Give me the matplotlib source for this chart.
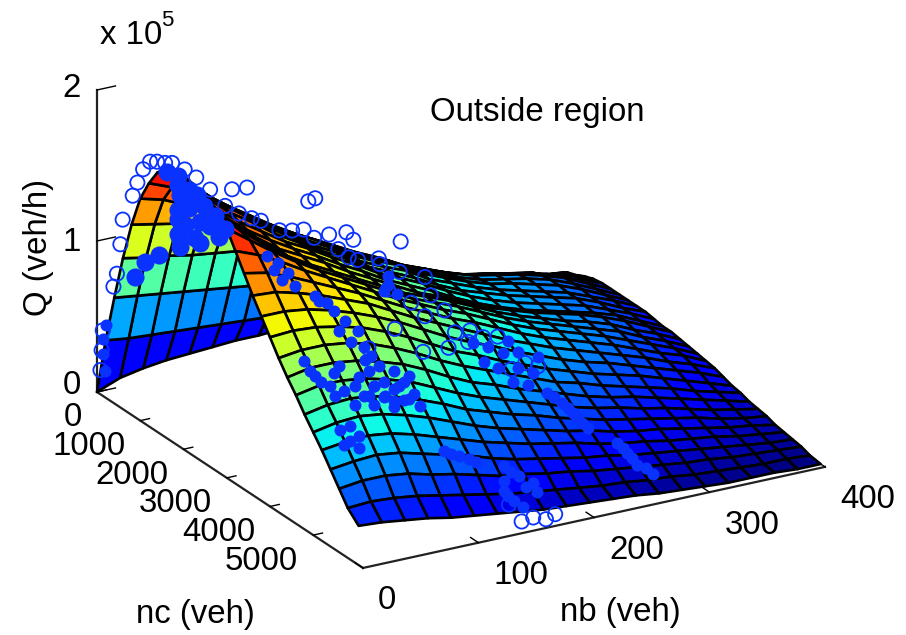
import numpy as np
import matplotlib
matplotlib.use('Agg')
import matplotlib.pyplot as plt
from mpl_toolkits.mplot3d import proj3d

plt.rcParams['font.family'] = ['Liberation Sans', 'DejaVu Sans']

# grid of the fitted surface
nc_grid = [0, 200, 400, 600, 800, 1000, 1200, 1400, 1600, 1800, 2000, 2200, 2400, 2600, 2800, 3000,
           3200, 3400, 3600, 3800, 4000, 4200, 4400, 4600, 4800, 5000, 5200, 5400, 5600, 5800, 6050]
nb_grid = [0, 20, 40, 60, 80, 100, 120, 140, 160, 180, 200, 220, 240, 260, 280, 300, 320, 340, 360, 380, 400]

# Q in 1000 veh/h, one row per nc_grid value
q_surface = [
    [0, 6, 9, 11, 12, 13, 14, 14, 15, 15, 15, 15, 15, 15, 15, 14, 14, 14, 13, 13, 12],
    [38, 36, 35, 34, 33, 32, 31, 30, 29, 28, 27, 26, 25, 24, 23, 22, 21, 20, 19, 18, 16],
    [70, 68, 66, 64, 62, 60, 58, 56, 53, 50, 46, 42, 38, 35, 32, 30, 28, 26, 24, 21, 18],
    [100, 97, 95, 92, 90, 88, 84, 80, 74, 68, 62, 55, 49, 44, 40, 37, 35, 32, 29, 25, 21],
    [126, 123, 120, 115, 110, 104, 97, 92, 85, 76, 69, 62, 56, 50, 46, 43, 40, 37, 33, 28, 23],
    [147, 143, 136, 129, 121, 113, 105, 98, 90, 81, 75, 67, 61, 55, 50, 47, 44, 41, 35, 30, 24],
    [161, 155, 146, 137, 127, 118, 109, 101, 93, 85, 78, 70, 64, 58, 53, 50, 47, 43, 38, 31, 24],
    [172, 162, 151, 140, 130, 120, 111, 103, 94, 86, 80, 71, 65, 59, 54, 51, 48, 44, 38, 31, 24],
    [178, 165, 152, 141, 130, 120, 111, 103, 94, 87, 81, 72, 66, 60, 55, 52, 48, 44, 38, 31, 24],
    [181, 165, 152, 141, 130, 120, 111, 103, 94, 87, 81, 72, 66, 60, 55, 51, 47, 43, 37, 31, 24],
    [181, 163, 150, 140, 129, 120, 111, 103, 94, 87, 80, 72, 65, 60, 55, 51, 47, 43, 37, 30, 24],
    [180, 160, 148, 138, 128, 120, 111, 103, 94, 87, 80, 72, 65, 59, 54, 50, 46, 42, 36, 30, 23],
    [177, 158, 146, 136, 127, 119, 110, 102, 93, 86, 79, 71, 64, 58, 53, 49, 45, 41, 36, 29, 22],
    [174, 158, 145, 134, 126, 118, 109, 101, 93, 85, 79, 72, 65, 60, 55, 51, 47, 42, 36, 29, 22],
    [171, 156, 144, 133, 124, 116, 108, 100, 92, 86, 80, 73, 66, 60, 55, 50, 46, 41, 34, 28, 21],
    [165, 154, 143, 133, 124, 116, 108, 100, 92, 86, 80, 73, 66, 60, 55, 50, 45, 40, 33, 27, 20],
    [154, 148, 140, 131, 123, 115, 107, 99, 92, 85, 79, 72, 65, 59, 54, 49, 44, 38, 32, 26, 19],
    [143, 140, 134, 127, 120, 113, 105, 97, 90, 83, 77, 70, 63, 57, 52, 47, 42, 36, 30, 25, 18],
    [132, 131, 127, 122, 116, 110, 102, 94, 87, 80, 73, 66, 60, 54, 49, 44, 39, 34, 28, 23, 17],
    [122, 122, 120, 116, 111, 105, 98, 90, 82, 75, 69, 62, 56, 50, 45, 41, 36, 31, 26, 21, 15],
    [112, 113, 112, 109, 105, 99, 92, 84, 76, 70, 63, 57, 51, 46, 41, 37, 33, 28, 23, 18, 13],
    [102, 104, 104, 102, 98, 92, 85, 77, 70, 64, 58, 52, 46, 42, 37, 33, 29, 25, 20, 16, 12],
    [93, 96, 96, 94, 90, 85, 78, 70, 63, 58, 52, 47, 42, 37, 33, 30, 26, 22, 18, 14, 10],
    [85, 88, 88, 86, 82, 77, 70, 63, 57, 52, 47, 42, 37, 33, 30, 26, 23, 19, 15, 12, 9],
    [76, 79, 80, 78, 74, 69, 63, 56, 51, 46, 42, 37, 33, 29, 26, 23, 20, 17, 13, 10, 8],
    [68, 71, 72, 70, 66, 61, 55, 49, 44, 40, 36, 32, 29, 25, 22, 20, 17, 14, 11, 9, 6],
    [60, 62, 63, 61, 57, 52, 47, 42, 38, 34, 31, 28, 24, 21, 19, 16, 14, 12, 9, 7, 5],
    [51, 53, 54, 52, 48, 44, 40, 35, 31, 28, 25, 22, 20, 17, 15, 13, 11, 9, 7, 5, 4],
    [42, 44, 44, 42, 38, 35, 31, 27, 25, 22, 20, 17, 15, 13, 11, 9, 8, 6, 5, 4, 3],
    [33, 34, 33, 31, 28, 25, 22, 19, 17, 15, 13, 11, 10, 8, 7, 5, 4, 3, 2, 2, 1],
    [26, 25, 23, 21, 18, 16, 14, 12, 10, 9, 8, 7, 6, 4, 3, 2, 1, 1, 1, 0, 0],
]

# single observations (open circles)
obs_nc = [1600] * 30 + [800] * 7 + [300] * 4 + [0] * 3 + [1600] * 6 + [4000] * 3 + [6000] * 5 + [3000] * 4
obs_nb = [57, 70, 123, 129, 82, 98, 109, 119, 128, 141, 156, 162, 149, 158, 166, 184, 185, 203, 224, 202,
          192, 212, 229, 241, 224, 198, 250, 263, 287, 175,
          16, 22, 29, 35, 10, 5, 1,
          11, 9, 6, 3,
          5, 4, 3,
          16, 26, 38, 51, 63, 74,
          221, 209, 232,
          143, 153, 164, 172, 132,
          209, 192, 170, 222]
obs_q = [155, 154, 136, 137, 130, 121, 119, 118, 111, 111, 110, 104, 100, 93, 90, 88, 84, 96, 69, 76,
         66, 54, 56, 44, 43, 39, 28, 27, 19, 30,
         165, 164, 162, 161, 161, 153, 145,
         118, 102, 83, 75,
         40, 27, 14,
         175, 168, 158, 145, 138, 133,
         58, 56, 54,
         4, 5, 2, 4, 17,
         55, 54, 55, 56]

# dense cloud near the peak
peak_nc = [1600] * 24 + [800] * 3
peak_nb = [10, 1, 20, 12, 10, 20, 33, 16, 29, 40, 12, 25, 38, 46, 29, 12, 10, 16, 27, 42, 51, 10, 10, 38,
           24, 12, 3]
peak_q = [172, 176, 161, 159, 149, 149, 148, 138, 138, 134, 129, 128, 134, 125, 124, 124, 166, 160, 156,
          140, 130, 143, 133, 136, 102, 99, 91]

# dense clouds on the falling side, by nc
cloud_nb_0 = [5, 5, 7, 8]
cloud_q_0 = [34, 24, 13, 43]
cloud_nb_3000 = [35, 44, 53, 76, 87, 97, 108, 119, 72, 82, 93, 140, 136,
                 41, 48, 59, 80, 93, 102, 114, 125, 67, 76, 89, 97, 140, 147]
cloud_q_3000 = [141, 135, 127, 108, 101, 81, 72, 67, 59, 50, 54, 104, 101,
                131, 123, 117, 104, 95, 87, 78, 60, 66, 55, 46, 58, 110, 97]
cloud_nb_4000 = [86, 99, 112, 120, 107, 90, 82, 116, 189, 202, 197, 215, 228, 210, 240, 253, 262, 270,
                 94, 107, 120, 77, 99, 86, 176, 206, 215, 232, 185, 223, 246, 258, 266, 275]
cloud_q_4000 = [75, 66, 61, 51, 52, 65, 83, 63, 74, 68, 59, 56, 50, 47, 35, 26, 18, 10,
                77, 72, 66, 73, 56, 59, 79, 75, 66, 60, 65, 43, 31, 22, 14, 6]
cloud_nb_5000 = [268, 276, 113, 126, 141, 165, 178, 190, 27, 44, 62, 79, 92, 23, 32, 272, 263,
                 36, 53, 70, 87, 19, 36, 53, 70, 32, 40, 27, 40, 119, 135, 171, 184, 165]
cloud_q_5000 = [13, 5, 37, 31, 25, 18, 9, 3, 91, 85, 82, 76, 70, 66, 57, 9, 17,
                93, 90, 85, 79, 89, 80, 77, 73, 67, 59, 55, 51, 34, 28, 13, 1, 8]
cloud_nb_5500 = [269, 150, 163, 262, 275, 175, 155, 146]
cloud_q_5500 = [9, 10, 1, 12, 4, 9, 6, 14]

nc_ticks = [0, 1000, 2000, 3000, 4000, 5000]
nb_ticks = [0, 100, 200, 300, 400]
q_ticks = [0, 100000, 200000]
q_ticklabels = ['0', '1', '2']

W, H = 906, 635
blue = '#0a32ff'
fs = 23.8

fig = plt.figure(figsize=(W / 100, H / 100), dpi=100)
ax = fig.add_subplot(projection='3d', proj_type='ortho', computed_zorder=False)
ax.patch.set_visible(False)
ax.view_init(elev=22.36, azim=-29.9)
ax.set_box_aspect((533.6, 533, 326.6))
ax.set_xlim(0, 6150)
ax.set_ylim(0, 400)
ax.set_zlim(0, 200000)

NC, NB = np.meshgrid(nc_grid, nb_grid, indexing='ij')
Q = np.array(q_surface) * 1000.0
ax.plot_surface(NC, NB, Q, rstride=1, cstride=1, cmap='jet', vmin=0, vmax=181000,
                edgecolor='black', linewidth=1.9, shade=False, zorder=1)

for nc_val, nb_vals, q_vals in ((0, cloud_nb_0, cloud_q_0), (3000, cloud_nb_3000, cloud_q_3000),
                                (4000, cloud_nb_4000, cloud_q_4000), (5000, cloud_nb_5000, cloud_q_5000),
                                (5500, cloud_nb_5500, cloud_q_5500)):
    ax.scatter([nc_val] * len(nb_vals), nb_vals, np.array(q_vals) * 1000.0, s=75, color=blue, linewidths=0,
               depthshade=False, zorder=2)
ax.scatter(peak_nc, peak_nb, np.array(peak_q) * 1000.0, s=170, color=blue, linewidths=0,
           depthshade=False, zorder=3)
ax.scatter(obs_nc, obs_nb, np.array(obs_q) * 1000.0, s=105, facecolors='none', edgecolors=blue,
           linewidths=1.3, depthshade=False, zorder=4)

ax.set_xticks(nc_ticks)
ax.set_yticks(nb_ticks)
ax.set_zticks(q_ticks)
ax.set_xticklabels([])
ax.set_yticklabels([])
ax.set_zticklabels([])
ax.grid(False)
ax.zaxis.set_ticks_position('lower')
for axis, out in ((ax.xaxis, 0.25), (ax.yaxis, 0.37), (ax.zaxis, 0.5)):
    axis.pane.set_visible(False)
    axis.line.set_color('#222222')
    axis.line.set_linewidth(1.6)
    axis._axinfo['tick']['inward_factor'] = 0
    axis._axinfo['tick']['outward_factor'] = out
    axis._axinfo['tick']['color'] = '#222222'
    axis._axinfo['tick']['linewidth'] = {True: 1.0, False: 0.5}


def project(x, y, z):
    px, py, _ = proj3d.proj_transform(x, y, z, ax.get_proj())
    return px, py


# put the axes box so that the cube corners land where they are in the picture
u0 = ax.transLimits.transform(project(0, 0, 0))
u1 = ax.transLimits.transform(project(6150, 400, 0))
side = (825 - 97) / (u1[0] - u0[0])
left = 97 - side * u0[0]
bottom = (H - 392) - side * u0[1]
ax.set_position([left / W, bottom / H, side / W, side / H])

for v in nc_ticks:
    ax.annotate(str(v), project(v, 0, 0), xytext=(-15, -26), textcoords='offset pixels',
                ha='right', va='center', fontsize=fs, annotation_clip=False)
for v in nb_ticks:
    ax.annotate(str(v), project(6150, v, 0), xytext=(15, -33), textcoords='offset pixels',
                ha='left', va='center', fontsize=fs, annotation_clip=False)
for v, lab, dy in zip(q_ticks, q_ticklabels, (6, -2, 1)):
    ax.annotate(lab, project(0, 0, v), xytext=(-16, dy), textcoords='offset pixels',
                ha='right', va='center', fontsize=fs, annotation_clip=False)

fig.text(430 / W, 1 - 113 / H, 'Outside region', fontsize=fs, ha='left', va='center')
fig.text(38 / W, 1 - 247 / H, 'Q (veh/h)', fontsize=fs, rotation=90, ha='center', va='center')
fig.text(195 / W, 1 - 614 / H, 'nc (veh)', fontsize=fs, ha='center', va='center')
fig.text(620 / W, 1 - 612 / H, 'nb (veh)', fontsize=fs, ha='center', va='center')
fig.text(100 / W, 1 - 35 / H, 'x 10', fontsize=fs, ha='left', va='center')
fig.text(161 / W, 1 - 20 / H, '5', fontsize=16, ha='left', va='center')

fig.savefig('out.png', dpi=100)
